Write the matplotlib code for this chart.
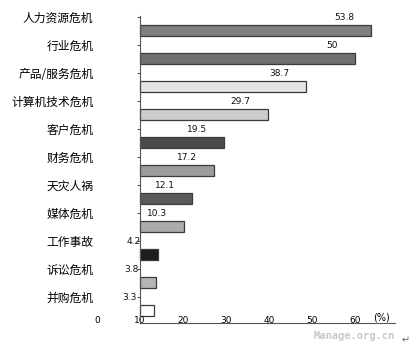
import matplotlib
matplotlib.use("Agg")
import matplotlib.pyplot as plt

plt.rcParams['font.family'] = ['Noto Sans CJK SC', 'DejaVu Sans']

categories = ["人力资源危机", "行业危机", "产品/服务危机", "计算机技术危机", "客户危机",
              "财务危机", "天灾人祸", "媒体危机", "工作事故", "诉讼危机", "并购危机"]
values = [53.8, 50, 38.7, 29.7, 19.5, 17.2, 12.1, 10.3, 4.2, 3.8, 3.3]
value_labels = ["53.8", "50", "38.7", "29.7", "19.5", "17.2", "12.1", "10.3", "4.2", "3.8", "3.3"]
bar_colors = ["#7f7f7f", "#6f6f6f", "#e4e4e4", "#cdcdcd", "#4b4b4b", "#9c9c9c",
              "#5a5a5a", "#ababab", "#201c1c", "#b5b5b5", "#ffffff"]
x_tick_labels = ["0", "10", "20", "30", "40", "50", "60"]

fig = plt.figure(figsize=(4.2, 3.44), dpi=100)
ax = fig.add_axes([0.231, 0.061, 0.709, 0.8925])

pos = list(range(len(categories)))
bar_pos = [p + 0.48 for p in pos]
ax.barh(bar_pos, values, height=0.41, color=bar_colors,
        edgecolor="#3a3a3a", linewidth=0.9)

for bp, v, lab in zip(pos, values, value_labels):
    ax.text(v - 4, bp, lab, ha="right", va="center", fontsize=6.5,
            family="DejaVu Sans", color="#111111")

ax.set_xlim(-10, 59.3)
ax.set_ylim(10.92, -0.04)

ax.spines["left"].set_position(("data", 0))
ax.spines["bottom"].set_bounds(0, 59.3)
ax.spines["top"].set_visible(False)
ax.spines["right"].set_visible(False)
ax.spines["left"].set_color("#555555")
ax.spines["bottom"].set_color("#555555")

ax.set_yticks(pos)
ax.set_yticklabels(categories, fontsize=8.5)
ax.tick_params(axis="y", length=2.5, width=0.8, pad=31, color="#555555")

# tick labels in the source sit one step to the left of their data positions
ax.set_xticks([-10 + 10 * i for i in range(len(x_tick_labels))])
ax.set_xticklabels(x_tick_labels, fontsize=6.5, family="DejaVu Sans")
ax.tick_params(axis="x", length=0, pad=-5)
for t in ax.get_xticklabels():
    t.set_clip_on(False)

ax.annotate("(%)", xy=(56.2, 0), xycoords=("data", "axes fraction"),
            xytext=(0, 4), textcoords="offset points",
            ha="center", va="center", fontsize=7, family="DejaVu Sans")

fig.text(0.94, 0.022, "Manage.org.cn", ha="right", va="center", fontsize=7.5,
         fontweight="bold", family="DejaVu Sans Mono", color="#c8c8c8")
fig.text(0.965, 0.012, "↵", ha="center", va="center", fontsize=7,
         family="DejaVu Sans", color="#666666")

fig.savefig("out.png", dpi=100)
